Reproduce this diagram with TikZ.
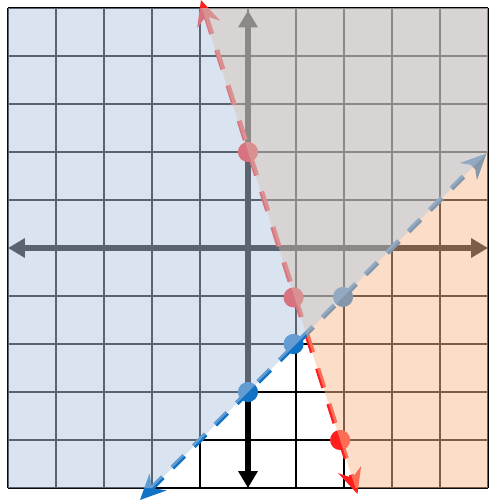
\documentclass[tikz,border=0pt]{standalone}
\usetikzlibrary{arrows.meta}
\definecolor{bluefill}{RGB}{181,199,225}
\definecolor{orangefill}{RGB}{249,189,145}
\definecolor{grayfill}{RGB}{200,194,193}
\definecolor{lineblue}{RGB}{17,114,198}
\definecolor{linered}{RGB}{255,30,30}
\tikzset{
  gridline/.style={line width=1.2pt, black},
  axisline/.style={line width=3.8pt, black, {Triangle[length=10pt,width=11pt]}-{Triangle[length=10pt,width=11pt]}},
  redline/.style={line width=3pt, linered, dash pattern=on 12pt off 10pt,
     {Stealth[length=15pt,width=14pt,inset=5pt]}-{Stealth[length=15pt,width=14pt,inset=5pt]}},
  blueline/.style={line width=3pt, lineblue, dash pattern=on 10pt off 8pt,
     {Stealth[length=15pt,width=14pt,inset=5pt]}-{Stealth[length=15pt,width=14pt,inset=5pt]}},
  reddot/.style={circle, fill=linered, inner sep=0pt, minimum size=0.42cm},
  bluedot/.style={circle, fill=lineblue, inner sep=0pt, minimum size=0.42cm},
  regionblue/.style={fill=bluefill, fill opacity=0.5},
  regionorange/.style={fill=orangefill, fill opacity=0.5},
  regiongray/.style={fill=grayfill, fill opacity=0.7}
}
\begin{document}
\begin{tikzpicture}
\useasboundingbox (-5.1667,-5.2917) rectangle (5.0833,5.1667);
% grid
\draw[gridline] (-5,-5) grid (5,5);
% axes
\coordinate (xl) at (-5,0);
\coordinate (xr) at (5,0);
\coordinate (yb) at (0,-5);
\coordinate (yt) at (0,4.95);
\draw[axisline] (xl) -- (xr);
\draw[axisline] (yb) -- (yt);
% lines
\coordinate (rtop) at (-0.98,5.167);
\coordinate (rbot) at (2.28,-5.125);
\coordinate (btop) at (4.97,1.97);
\coordinate (bbot) at (-2.25,-5.25);
\draw[redline] (rtop) -- (rbot);
\draw[blueline] (bbot) -- (btop);
% points
\node[reddot] (r1) at (0,2) {};
\node[reddot] (r2) at (0.95,-1.03) {};
\node[reddot] (r3) at (1.92,-4) {};
\node[bluedot] (b1) at (0,-3) {};
\node[bluedot] (b2) at (0.95,-2.0) {};
\node[bluedot] (b3) at (1.98,-1.02) {};
% regions
\coordinate (I) at (1.2121,-1.7879);
\fill[regionblue] (-5,-5) -- (-2,-5) -- (I) -- (-0.96,5) -- (-5,5) -- cycle;
\fill[regiongray] (I) -- (5,2) -- (5,5) -- (-0.96,5) -- cycle;
\fill[regionorange] (I) -- (2.24,-5) -- (5,-5) -- (5,2) -- cycle;
\end{tikzpicture}
\end{document}
